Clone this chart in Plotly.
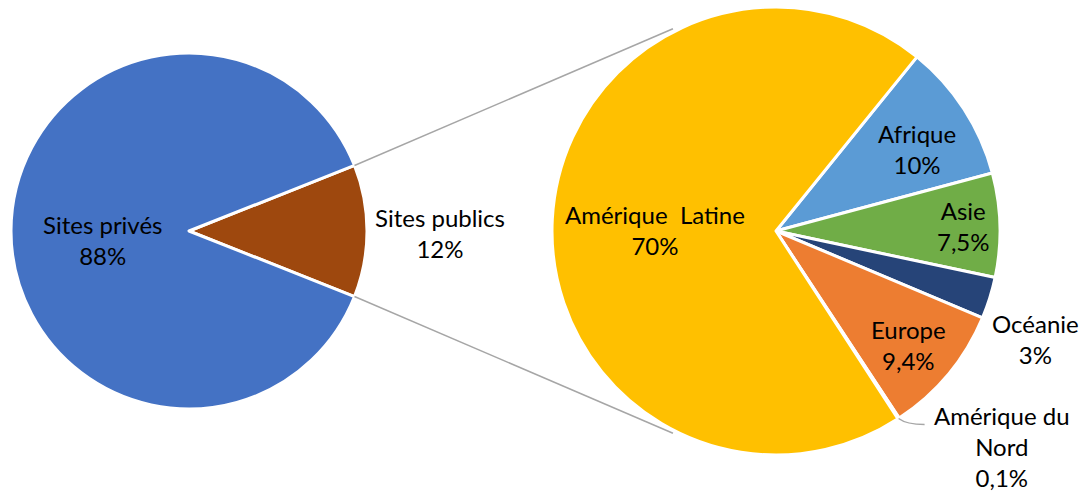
import math
import plotly.graph_objects as go

# ---------------- data ----------------
main_labels = ["Sites publics", "Sites privés"]
main_values = [12, 88]
main_text = ["12%", "88%"]
main_colors = ["#9E480E", "#4472C4"]

sub_labels = ["Afrique", "Asie", "Océanie", "Europe", "Amérique du Nord", "Amérique  Latine"]
sub_values = [10, 7.5, 3, 9.4, 0.1, 70]
sub_text = ["10%", "7,5%", "3%", "9,4%", "0,1%", "70%"]
sub_colors = ["#5B9BD5", "#70AD47", "#264478", "#ED7D31", "#A5A5A5", "#FFC000"]

# ---------------- layout ----------------
W, H = 1084, 494
FONT = "Lato"
FS = 24

L_c, L_r = (189, 231), 178      # left pie centre / radius (px)
R_c, R_r = (776, 231), 224      # right pie centre / radius (px)


def dom(c, r):
    x = [(c[0] - r) / W, (c[0] + r) / W]
    y = [1 - (c[1] + r) / H, 1 - (c[1] - r) / H]
    return x, y


Lx, Ly = dom(L_c, L_r)
Rx, Ry = dom(R_c, R_r)

main_rot = 90 - main_values[0] / sum(main_values) * 360 / 2
sub_rot = 39

fig = go.Figure()
fig.add_trace(go.Pie(
    labels=main_labels, values=main_values, sort=False, direction="clockwise",
    rotation=main_rot, textinfo="none", domain=dict(x=Lx, y=Ly),
    marker=dict(colors=main_colors, line=dict(color="white", width=3)),
    showlegend=False,
))
fig.add_trace(go.Pie(
    labels=sub_labels, values=sub_values, sort=False, direction="clockwise",
    rotation=sub_rot, textinfo="none", domain=dict(x=Rx, y=Ry),
    marker=dict(colors=sub_colors, line=dict(color="white", width=3)),
    showlegend=False,
))


def pt(c, r, ang):
    a = math.radians(ang)
    return c[0] + r * math.sin(a), c[1] - r * math.cos(a)


def to_paper(p):
    return p[0] / W, 1 - p[1] / H


# connector lines between pies
a_top = main_rot
a_bot = main_rot + main_values[0] / sum(main_values) * 360
conn = [(pt(L_c, L_r, a_top), pt(R_c, R_r + 3, 333)),
        (pt(L_c, L_r, a_bot), pt(R_c, R_r + 3, 207))]
for p0, p1 in conn:
    x0, y0 = to_paper(p0)
    x1, y1 = to_paper(p1)
    fig.add_shape(type="line", xref="paper", yref="paper", x0=x0, y0=y0, x1=x1, y1=y1,
                  line=dict(color="#A6A6A6", width=1.5))

# leader line for Amérique du Nord
cum = sum(sub_values[:4]) + sub_values[4] / 2
a_na = sub_rot + cum / sum(sub_values) * 360
p0 = pt(R_c, R_r, a_na)
p1 = (p0[0] + 8, p0[1] + 6)
p2 = (p0[0] + 26, p0[1] + 6)
path = "M {} {} Q {} {} {} {}".format(*to_paper(p0), *to_paper(p1), *to_paper(p2))
fig.add_shape(type="path", xref="paper", yref="paper", path=path,
              line=dict(color="#A6A6A6", width=1.5))

# data labels
label_pos = {
    "Sites privés": (103, 240),
    "Sites publics": (440, 233),
    "Amérique  Latine": (655, 230),
    "Afrique": (917, 149),
    "Asie": (964, 226),
    "Océanie": (1035, 339),
    "Europe": (908, 345),
    "Amérique du Nord": (1002, 446),
}
all_labels = main_labels + sub_labels
all_text = main_text + sub_text
for lab, txt in zip(all_labels, all_text):
    x, y = label_pos[lab]
    shown = lab.replace("  ", "\u00a0 ")
    if lab == "Amérique du Nord":
        shown = "Amérique du<br>Nord"
    fig.add_annotation(x=x / W, y=1 - y / H, xref="paper", yref="paper",
                       text=f"{shown}<br>{txt}", showarrow=False,
                       xanchor="center", yanchor="middle", align="center",
                       font=dict(family=FONT, size=FS, color="#000000"))

fig.update_layout(width=W, height=H, margin=dict(l=0, r=0, t=0, b=0),
                  paper_bgcolor="white", plot_bgcolor="white",
                  font=dict(family=FONT, size=FS, color="#000000"))

fig.write_html("out.html")
